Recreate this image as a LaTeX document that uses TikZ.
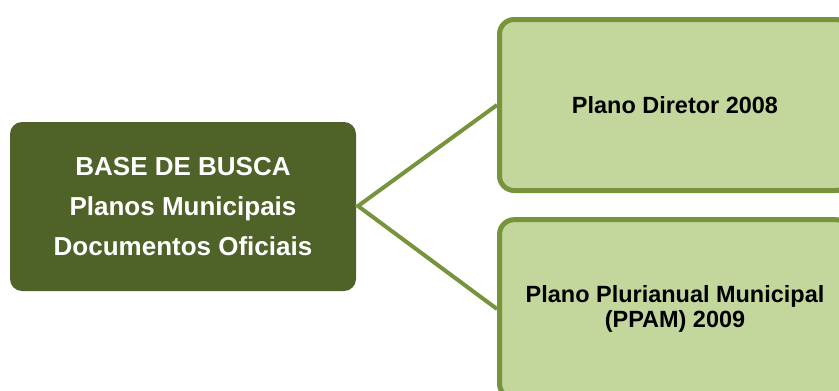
\documentclass[tikz,border=0pt]{standalone}
\usepackage{fontspec}
\setmainfont{Liberation Sans}
\usepackage{xcolor}
\usetikzlibrary{positioning}
\definecolor{darkgreen}{HTML}{4F6228}
\definecolor{lightgreen}{HTML}{C3D69B}
\definecolor{midgreen}{HTML}{77933C}

\begin{document}
\begin{tikzpicture}[x=0.75pt, y=-0.75pt,
    basebox/.style={rectangle, rounded corners=9pt, align=center, fill=darkgreen, text=white, font=\bfseries\fontsize{19.5}{30}\selectfont, minimum width=259.5pt, minimum height=126.75pt},
    planbox/.style={draw=midgreen, line width=3.75pt, rectangle, rounded corners=11pt, align=center, fill=lightgreen, font=\bfseries\fontsize{17.6}{18.75}\selectfont, minimum width=263.25pt, minimum height=128.25pt},
    link/.style={draw=midgreen, line width=3pt}
]
\useasboundingbox (0,0) rectangle (839,390);
\clip (0,0) rectangle (839,390);
% Base de busca
\node[basebox] (base) at (183,206.5) {BASE DE BUSCA\\Planos Municipais\\Documentos Oficiais};
% Planos
\node[planbox] (diretor) at (675,105) {Plano Diretor 2008};
\node[planbox, minimum height=134pt] (ppam) at (675,309) {Plano Plurianual Municipal\\(PPAM) 2009};
\coordinate (fork) at (358,206);
\draw[link] (diretor.west) -- (fork) -- (ppam.west);
\end{tikzpicture}
\end{document}
